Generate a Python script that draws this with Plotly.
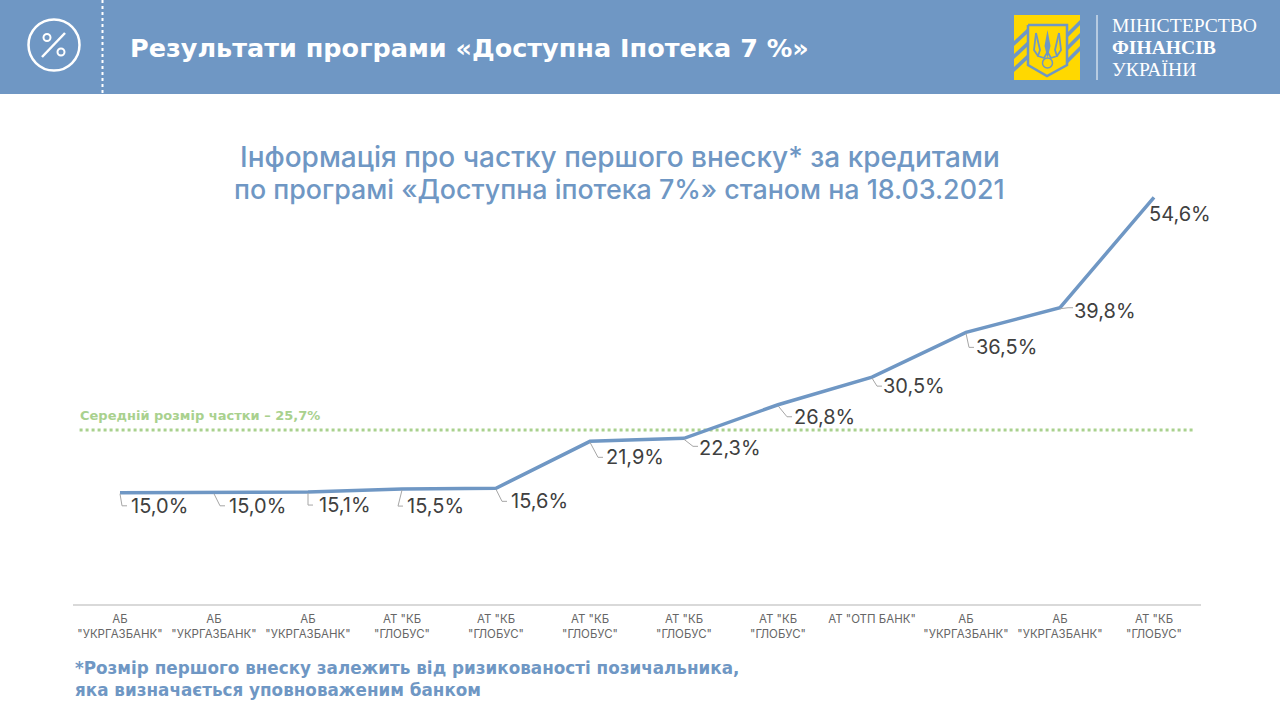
import plotly.graph_objects as go

categories = ['АБ<br>"УКРГАЗБАНК"', 'АБ<br>"УКРГАЗБАНК"', 'АБ<br>"УКРГАЗБАНК"', 'АТ "КБ<br>"ГЛОБУС"', 'АТ "КБ<br>"ГЛОБУС"',
              'АТ "КБ<br>"ГЛОБУС"', 'АТ "КБ<br>"ГЛОБУС"', 'АТ "КБ<br>"ГЛОБУС"', 'АТ "ОТП БАНК"<br> ',
              'АБ<br>"УКРГАЗБАНК"', 'АБ<br>"УКРГАЗБАНК"', 'АТ "КБ<br>"ГЛОБУС"']
positions = list(range(12))
values = [15.0, 15.0, 15.1, 15.5, 15.6, 21.9, 22.3, 26.8, 30.5, 36.5, 39.8, 54.6]
value_labels = ["15,0%", "15,0%", "15,1%", "15,5%", "15,6%", "21,9%", "22,3%", "26,8%", "30,5%", "36,5%", "39,8%", "54,6%"]
label_dx = [39, 43, 37, 33, 43, 45, 46, 46, 42, 40, 45, 26]
label_dy = [13, 13, 13, 17, 13, 16, 10, 12, 9, 15, 3, 17]
leader_dy = [13, 13, 13, 17, 13, 16, 8, 12, 9, 15, 0, 0]
# the dotted reference line as drawn in the picture
average_x = [-0.43, 11.44]
average_level = [23.42, 23.42]

BLUE = "#6F97C4"
GREEN = "#A9D18E"
DARK = "#404040"
FONT = "Inter"
WIDE = "DejaVu Sans"
L, R, T, B = 73, 1201, 157, 604


def X(v):
    return (v - L) / (R - L)


def Y(v):
    return (B - v) / (B - T)


def rect(x0, y0, x1, y1, color):
    return dict(type="rect", xref="paper", yref="paper", x0=X(x0), x1=X(x1), y0=Y(y0), y1=Y(y1),
                fillcolor=color, line_width=0, layer="below")


def poly(points, fill=None, line=None, width=1.5):
    path = "M" + " L".join(f"{X(a):.5f},{Y(b):.5f}" for a, b in points)
    if fill:
        path += " Z"
    return dict(type="path", xref="paper", yref="paper", path=path, fillcolor=fill or "rgba(0,0,0,0)",
                line=dict(color=line or "rgba(0,0,0,0)", width=width if line else 0))


def circle(cx, cy, r, line="white", width=2.5, fill=None):
    return dict(type="circle", xref="paper", yref="paper", x0=X(cx - r), x1=X(cx + r), y0=Y(cy + r), y1=Y(cy - r),
                line=dict(color=line, width=width), fillcolor=fill or "rgba(0,0,0,0)")


def note(text, x, y, size, color, family=FONT, anchor="left", weight=None):
    f = dict(family=family, size=size, color=color)
    if weight:
        f["weight"] = weight
    return dict(text=text, x=X(x), y=Y(y), xanchor=anchor, yanchor="middle", showarrow=False, font=f,
                xref="paper", yref="paper")


shapes = [rect(0, 0, 1280, 94, BLUE)]
shapes.append(dict(type="line", xref="paper", yref="paper", x0=X(102.5), x1=X(102.5), y0=Y(0), y1=Y(94),
                   line=dict(color="white", width=2, dash="dot")))
# percent icon
shapes += [circle(54, 45, 25.5), circle(47, 37.5, 3.5, width=2), circle(61, 52, 3.5, width=2),
           poly([(42, 57), (65, 33)], line="white", width=2.5)]
# logo
shapes.append(rect(1014, 15, 1080, 80, "#FFD800"))
for off in (0, 13, 26):
    shapes.append(poly([(1014, 41 + off), (1029, 27 + off), (1029, 32 + off), (1014, 46 + off)], fill=BLUE))
    shapes.append(poly([(1066, 34 + off), (1080, 20 + off), (1080, 25 + off), (1066, 39 + off)], fill=BLUE))
shapes.append(poly([(1028, 25), (1067, 25), (1067, 65), (1047, 76), (1028, 65), (1028, 25)], line=BLUE, width=2.5))
shapes.append(poly([(1047.5, 30), (1044.5, 46), (1047.5, 58), (1050.5, 46)], fill=BLUE))
shapes.append(poly([(1036, 33), (1040, 50), (1038, 56), (1044, 58), (1047.5, 52)], line=BLUE, width=1.8))
shapes.append(poly([(1059, 33), (1055, 50), (1057, 56), (1051, 58), (1047.5, 52)], line=BLUE, width=1.8))
shapes.append(poly([(1036, 33), (1034, 50), (1038, 56)], line=BLUE, width=1.8))
shapes.append(poly([(1059, 33), (1061, 50), (1057, 56)], line=BLUE, width=1.8))
shapes.append(circle(1047.5, 63, 5, line=BLUE, width=1.5))
shapes.append(dict(type="line", xref="paper", yref="paper", x0=X(1097), x1=X(1097), y0=Y(15), y1=Y(80),
                   line=dict(color="white", width=1)))
# leader lines, anchored on the data through pixel-sized shapes
for i, v in enumerate(values):
    end = label_dx[i] - 32
    if end <= 0:
        continue
    dy = leader_dy[i]
    shapes.append(dict(type="path", xref="x", yref="y", xsizemode="pixel", ysizemode="pixel",
                       xanchor=i, yanchor=v, path=f"M0,-1 L{end - 5},{-dy} L{end},{-dy}",
                       line=dict(color="#A6A6A6", width=1), fillcolor="rgba(0,0,0,0)"))

annotations = [
    note("<b>Результати програми «Доступна Іпотека 7 %»</b>", 128, 48, 25.5, "white", WIDE),
    note("МІНІСТЕРСТВО", 1110, 25, 19.6, "white", "Liberation Serif"),
    note("<b>ФІНАНСІВ</b>", 1110, 47, 19.6, "white", "Liberation Serif"),
    note("УКРАЇНИ", 1110, 70, 19.6, "white", "Liberation Serif"),
    note("Інформація про частку першого внеску* за кредитами", 620, 157, 28, BLUE, anchor="center", weight=500),
    note("по програмі «Доступна іпотека 7%» станом на 18.03.2021", 619, 189, 26.8, BLUE, anchor="center", weight=500),
    note("<b>Середній розмір частки – 25,7%</b>", 78, 415, 13, GREEN, WIDE),
    note("<b>*Розмір першого внеску залежить від ризикованості позичальника,</b>", 73, 668, 16.8, BLUE, WIDE),
    note("<b>яка визначається уповноваженим банком</b>", 73, 690, 16.8, BLUE, WIDE),
]
for i, v in enumerate(values):
    annotations.append(dict(text=value_labels[i], x=i, y=v, xref="x", yref="y", xshift=label_dx[i], yshift=-label_dy[i],
                            showarrow=False, font=dict(family=FONT, size=20, color=DARK)))

fig = go.Figure()
fig.add_trace(go.Scatter(x=average_x, y=average_level, mode="lines", line=dict(color=GREEN, width=3, dash="dot"),
                         hoverinfo="skip"))
fig.add_trace(go.Scatter(x=positions, y=values, mode="lines", line=dict(color=BLUE, width=3.5)))
fig.update_layout(
    width=1280, height=720, margin=dict(l=L, r=1280 - R, t=T, b=720 - B, autoexpand=False), showlegend=False,
    plot_bgcolor="white", paper_bgcolor="white", shapes=shapes, annotations=annotations,
    font=dict(family=FONT),
    xaxis=dict(tickmode="array", tickvals=positions, ticktext=categories, range=[-0.5, 11.5], showgrid=False,
               zeroline=False, showline=True, linecolor="#D9D9D9", linewidth=1.5, ticks="", ticklabelstandoff=3,
               tickfont=dict(family=FONT, size=11.5, color="#666666"), tickangle=0),
    yaxis=dict(range=[0.1, 60], visible=False, showgrid=False, zeroline=False),
)
fig.write_html("out.html", config=dict(displayModeBar=False), post_script="document.body.style.margin='0';")
